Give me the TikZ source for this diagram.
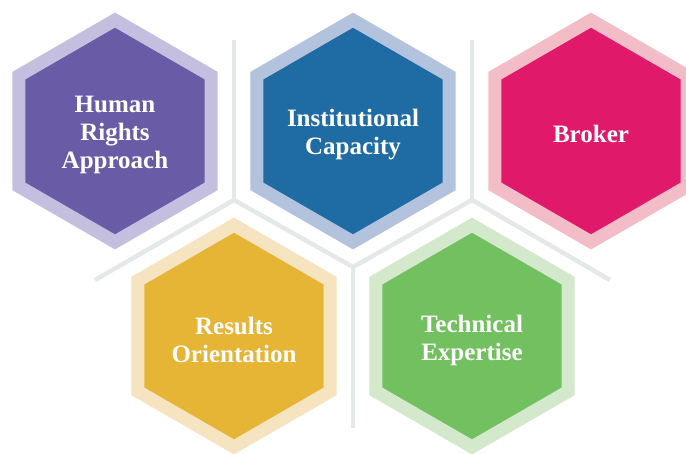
\documentclass[tikz,border=0pt]{standalone}
\usepackage{fontspec}
\setmainfont{Liberation Serif}
\usetikzlibrary{shapes.geometric}
\definecolor{hrdark}{HTML}{6A5BA6}
\definecolor{hrlight}{HTML}{C5BFDF}
\definecolor{icdark}{HTML}{1F6BA3}
\definecolor{iclight}{HTML}{B4C3DD}
\definecolor{brdark}{HTML}{E0196B}
\definecolor{brlight}{HTML}{F3BDC8}
\definecolor{rodark}{HTML}{E6B536}
\definecolor{rolight}{HTML}{F6E4C1}
\definecolor{tedark}{HTML}{72C05F}
\definecolor{telight}{HTML}{D4E8CB}
\definecolor{sepgrey}{HTML}{E4E9E8}
\begin{document}
\begin{tikzpicture}[x=1pt,y=-1pt,
  hexbox/.style={regular polygon, regular polygon sides=6, shape border rotate=30,
    minimum size=221.8pt, inner sep=0pt, line width=13pt},
  hextext/.style={align=center, inner sep=0pt, text=white,
    font=\fontsize{25}{28}\selectfont\bfseries},
  sepline/.style={draw=sepgrey, line width=4.5pt}]
\useasboundingbox (0,0) rectangle (686,453);
% separator lines
\coordinate (t1) at (234,40);
\coordinate (t2) at (472,40);
\coordinate (j1) at (234,200);
\coordinate (j2) at (353,267);
\coordinate (j3) at (472,200);
\coordinate (e1) at (95,280);
\coordinate (e2) at (610,280);
\coordinate (e3) at (353,428);
\draw[sepline] (t1) -- (j1);
\draw[sepline] (t2) -- (j3);
\draw[sepline] (e1) -- (j1) -- (j2) -- (j3) -- (e2);
\draw[sepline] (j2) -- (e3);
% hexagons
\node[hexbox, draw=hrlight, fill=hrdark] (hr) at (115,131) {};
\node[hexbox, draw=iclight, fill=icdark] (ic) at (353,131) {};
\node[hexbox, draw=brlight, fill=brdark] (br) at (591,131) {};
\node[hexbox, draw=rolight, fill=rodark] (ro) at (234,336) {};
\node[hexbox, draw=telight, fill=tedark] (te) at (472,336) {};
% labels
\node[hextext] (hrt) at ([yshift=-4pt]hr.center) {Human\\Rights\\Approach};
\node[hextext] (ict) at ([yshift=-4pt]ic.center) {Institutional\\Capacity};
\node[hextext] (brt) at ([yshift=-3pt]br.center) {Broker};
\node[hextext] (rot) at ([yshift=-4pt]ro.center) {Results\\Orientation};
\node[hextext] (tet) at ([yshift=-4pt]te.center) {Technical\\Expertise};
\end{tikzpicture}
\end{document}
